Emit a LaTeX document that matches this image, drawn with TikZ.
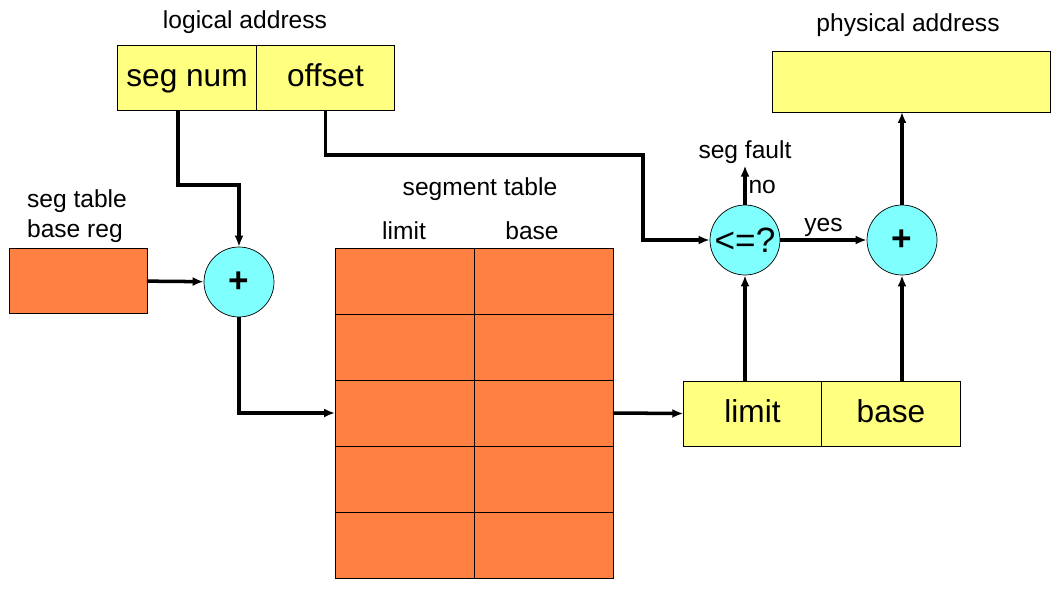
\documentclass[tikz,border=0pt]{standalone}
\usepackage{fontspec}
\setmainfont{Liberation Sans}
\usetikzlibrary{positioning}
\usetikzlibrary{arrows.meta}
\definecolor{regyellow}{HTML}{FFFF80}
\definecolor{taborange}{HTML}{FF8040}
\definecolor{addcyan}{HTML}{80FFFF}
\tikzstyle{field} = [draw, rectangle, fill=regyellow, minimum height=1.3cm, minimum width=2.77cm, inner sep=0pt, outer sep=0pt, text height=14pt, text depth=4pt, font=\fontsize{18}{20}\selectfont]
\tikzstyle{cell} = [draw, rectangle, fill=taborange, minimum height=1.32cm, minimum width=2.78cm, inner sep=0pt, outer sep=0pt]
\tikzstyle{sum} = [draw, circle, fill=addcyan, minimum size=1.4cm, inner sep=0pt, font=\fontsize{20}{22}\selectfont]
\tikzstyle{txt} = [inner sep=1pt, font=\fontsize{14}{17}\selectfont]
\tikzstyle{wire} = [line width=2pt]
\tikzstyle{coord} = [coordinate]

\begin{document}
\begin{tikzpicture}[x=0.02cm, y=-0.02cm, >={Latex[length=0.22cm, width=0.18cm]}]
    \useasboundingbox (0,0) rectangle (1058,599);
    \node [field] (segnum) at (187,77.5) {seg num};
    \node [field, right=0pt of segnum] (offset) {offset};
    \node [txt] at (245,22) {logical address};
    \node [field, minimum width=5.56cm, minimum height=1.22cm] (phys) at (911,81.5) {};
    \node [txt] at (908,25) {physical address};
    \node [cell, minimum width=2.76cm, minimum height=1.3cm] (basereg) at (78,280.5) {};
    \node [txt, align=left] at (77,216) {seg table\\base reg};
    \node [sum] (sum1) at (239,282) {\textbf{+}};
    \foreach \r in {0,...,4} {
        \node [cell] (lim\r) at (404.5,281+66*\r) {};
        \node [cell, right=0pt of lim\r] (bas\r) {};
    }
    \node [txt] at (480,189) {segment table};
    \node [txt] at (404,231) {limit};
    \node [txt] at (532,231) {base};
    \node [sum] (cmp) at (745,240) {<=?};
    \node [sum] (sum2) at (902,240) {\textbf{+}};
    \node [field] (limit) at (752.5,413.5) {limit};
    \node [field, right=0pt of limit] (base) {base};
    \node [txt] (fault) at (745,152) {seg fault};
    \coordinate (knee) at (239,185);
    \coordinate (bend) at (643,155);

    \draw [wire, ->] ([xshift=-0.18cm]segnum.south) |- (knee) -- (sum1);
    \draw [wire, ->] (basereg) -- (sum1);
    \draw [wire, ->] (sum1) |- (lim2.west);
    \draw [wire, ->] (bas2.east) -- (limit.west);
    \draw [wire, ->] (offset.south) |- (bend) |- (cmp.west);
    \draw [wire, ->] (cmp) -- node[txt, right, pos=0.45] {no} (fault);
    \draw [wire, ->] (cmp) -- node[txt, above] {yes} (sum2);
    \draw [wire, ->] (limit.north -| cmp) -- (cmp);
    \draw [wire, ->] (base.north -| sum2) -- (sum2);
    \draw [wire, ->] (sum2) -- (sum2 |- phys.south);
\end{tikzpicture}
\end{document}
